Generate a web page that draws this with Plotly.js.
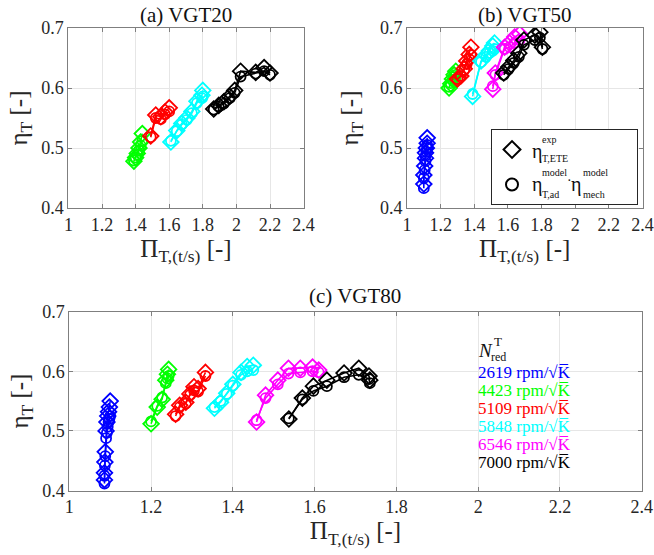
<!DOCTYPE html>
<html>
<head>
<meta charset="utf-8">
<script src="https://cdn.plot.ly/plotly-3.0.1.min.js"></script>
<style>html,body{margin:0;padding:0;background:#fff;}#chart{width:654px;height:555px;}</style>
</head>
<body>
<div id="chart"></div>
<script>
// ---------- data ----------
const speeds = ['2619', '4423', '5109', '5848', '6546', '7000'];
const seriesColors = ['#0000ff', '#00ff00', '#ff0000', '#00ffff', '#ff00ff', '#000000'];
const xTicks = [1, 1.2, 1.4, 1.6, 1.8, 2, 2.2, 2.4];
const yTicks = [0.4, 0.5, 0.6, 0.7];

// (a) VGT20
const vgt20_4423_pi  = [1.39, 1.40, 1.41, 1.42, 1.43, 1.44];
const vgt20_4423_exp = [0.478, 0.484, 0.491, 0.500, 0.510, 0.524];
const vgt20_4423_mod = [0.479, 0.484, 0.489, 0.496, 0.504, 0.512];
const vgt20_5109_pi  = [1.49, 1.52, 1.55, 1.575, 1.60];
const vgt20_5109_exp = [0.520, 0.555, 0.552, 0.560, 0.567];
const vgt20_5109_mod = [0.518, 0.550, 0.548, 0.556, 0.561];
const vgt20_5848_pi  = [1.61, 1.645, 1.675, 1.705, 1.735, 1.765, 1.795, 1.80];
const vgt20_5848_exp = [0.510, 0.529, 0.541, 0.550, 0.561, 0.578, 0.588, 0.596];
const vgt20_5848_mod = [0.512, 0.528, 0.539, 0.547, 0.558, 0.575, 0.583, 0.586];
const vgt20_7000_pi  = [1.865, 1.895, 1.925, 1.96, 1.99, 2.025, 2.115, 2.165, 2.20];
const vgt20_7000_exp = [0.565, 0.571, 0.577, 0.586, 0.596, 0.628, 0.626, 0.634, 0.625];
const vgt20_7000_mod = [0.564, 0.569, 0.574, 0.583, 0.592, 0.619, 0.624, 0.628, 0.622];

// (b) VGT50
const vgt50_2619_pi  = [1.10, 1.10, 1.105, 1.11, 1.11, 1.115, 1.12, 1.12];
const vgt50_2619_exp = [0.440, 0.455, 0.470, 0.483, 0.492, 0.500, 0.508, 0.517];
const vgt50_2619_mod = [0.433, 0.450, 0.463, 0.478, 0.487, 0.494, 0.500, 0.505];
const vgt50_4423_pi  = [1.25, 1.26, 1.27, 1.28, 1.29];
const vgt50_4423_exp = [0.600, 0.607, 0.615, 0.622, 0.628];
const vgt50_4423_mod = [0.602, 0.608, 0.613, 0.618, 0.622];
const vgt50_5109_pi  = [1.30, 1.32, 1.34, 1.355, 1.37, 1.38];
const vgt50_5109_exp = [0.615, 0.620, 0.632, 0.645, 0.656, 0.668];
const vgt50_5109_mod = [0.615, 0.620, 0.630, 0.640, 0.648, 0.655];
const vgt50_5848_pi  = [1.39, 1.44, 1.47, 1.49, 1.51, 1.52];
const vgt50_5848_exp = [0.586, 0.645, 0.655, 0.662, 0.670, 0.675];
const vgt50_5848_mod = [0.590, 0.643, 0.652, 0.658, 0.662, 0.665];
const vgt50_6546_pi  = [1.51, 1.525, 1.58, 1.61, 1.64, 1.67];
const vgt50_6546_exp = [0.598, 0.625, 0.668, 0.675, 0.685, 0.690];
const vgt50_6546_mod = [0.603, 0.622, 0.665, 0.668, 0.675, 0.680];
const vgt50_7000_pi  = [1.575, 1.605, 1.635, 1.665, 1.695, 1.76, 1.79, 1.805];
const vgt50_7000_exp = [0.625, 0.635, 0.646, 0.658, 0.680, 0.688, 0.693, 0.668];
const vgt50_7000_mod = [0.622, 0.632, 0.642, 0.652, 0.672, 0.680, 0.684, 0.665];

// (c) VGT80
const vgt80_2619_pi  = [1.086, 1.086, 1.087, 1.088, 1.090, 1.092, 1.094, 1.096, 1.098, 1.100];
const vgt80_2619_exp = [0.418, 0.430, 0.448, 0.465, 0.500, 0.515, 0.525, 0.532, 0.540, 0.550];
const vgt80_2619_mod = [0.412, 0.425, 0.442, 0.458, 0.488, 0.497, 0.507, 0.515, 0.520, 0.525];
const vgt80_4423_pi  = [1.20, 1.215, 1.227, 1.236, 1.240, 1.243];
const vgt80_4423_exp = [0.512, 0.540, 0.553, 0.585, 0.595, 0.603];
const vgt80_4423_mod = [0.516, 0.542, 0.556, 0.580, 0.588, 0.592];
const vgt80_5109_pi  = [1.26, 1.27, 1.285, 1.295, 1.305, 1.315, 1.333];
const vgt80_5109_exp = [0.528, 0.543, 0.548, 0.562, 0.574, 0.571, 0.598];
const vgt80_5109_mod = [0.525, 0.540, 0.546, 0.560, 0.568, 0.566, 0.592];
const vgt80_5848_pi  = [1.355, 1.37, 1.385, 1.40, 1.42, 1.435, 1.45];
const vgt80_5848_exp = [0.538, 0.548, 0.563, 0.578, 0.598, 0.608, 0.610];
const vgt80_5848_mod = [0.540, 0.550, 0.562, 0.576, 0.594, 0.600, 0.602];
const vgt80_6546_pi  = [1.458, 1.48, 1.51, 1.536, 1.565, 1.595, 1.61];
const vgt80_6546_exp = [0.515, 0.560, 0.585, 0.605, 0.605, 0.607, 0.602];
const vgt80_6546_mod = [0.518, 0.555, 0.578, 0.596, 0.598, 0.600, 0.598];
const vgt80_7000_pi  = [1.537, 1.57, 1.597, 1.63, 1.672, 1.708, 1.733, 1.735];
const vgt80_7000_exp = [0.520, 0.555, 0.575, 0.585, 0.597, 0.605, 0.592, 0.585];
const vgt80_7000_mod = [0.521, 0.553, 0.567, 0.575, 0.590, 0.594, 0.587, 0.580];

// ---------- assemble ----------
const panels = [
  {xa: 'x', ya: 'y', series: [
    [1, vgt20_4423_pi, vgt20_4423_exp, vgt20_4423_mod],
    [2, vgt20_5109_pi, vgt20_5109_exp, vgt20_5109_mod],
    [3, vgt20_5848_pi, vgt20_5848_exp, vgt20_5848_mod],
    [5, vgt20_7000_pi, vgt20_7000_exp, vgt20_7000_mod]]},
  {xa: 'x2', ya: 'y2', series: [
    [0, vgt50_2619_pi, vgt50_2619_exp, vgt50_2619_mod],
    [1, vgt50_4423_pi, vgt50_4423_exp, vgt50_4423_mod],
    [2, vgt50_5109_pi, vgt50_5109_exp, vgt50_5109_mod],
    [3, vgt50_5848_pi, vgt50_5848_exp, vgt50_5848_mod],
    [4, vgt50_6546_pi, vgt50_6546_exp, vgt50_6546_mod],
    [5, vgt50_7000_pi, vgt50_7000_exp, vgt50_7000_mod]]},
  {xa: 'x3', ya: 'y3', series: [
    [0, vgt80_2619_pi, vgt80_2619_exp, vgt80_2619_mod],
    [1, vgt80_4423_pi, vgt80_4423_exp, vgt80_4423_mod],
    [2, vgt80_5109_pi, vgt80_5109_exp, vgt80_5109_mod],
    [3, vgt80_5848_pi, vgt80_5848_exp, vgt80_5848_mod],
    [4, vgt80_6546_pi, vgt80_6546_exp, vgt80_6546_mod],
    [5, vgt80_7000_pi, vgt80_7000_exp, vgt80_7000_mod]]}
];

const traces = [];
panels.forEach(p => {
  p.series.forEach(([ci, xs, ye, ym]) => {
    const c = seriesColors[ci];
    traces.push({type: 'scatter', mode: 'lines+markers', x: xs, y: ym, xaxis: p.xa, yaxis: p.ya,
      showlegend: false, hoverinfo: 'skip', line: {color: c, width: 1.6},
      marker: {symbol: 'circle-open', size: 10, color: c, line: {color: c, width: 1.8}}});
    traces.push({type: 'scatter', mode: 'lines+markers', x: xs, y: ye, xaxis: p.xa, yaxis: p.ya,
      showlegend: false, hoverinfo: 'skip', line: {color: c, width: 1.6},
      marker: {symbol: 'diamond-open', size: 12, color: c, line: {color: c, width: 1.8}}});
  });
});
// legend entries (panel b); their text is drawn by annotations below
const blankName = '&nbsp;'.repeat(19);
traces.push({type: 'scatter', mode: 'markers', x: [null], y: [null], xaxis: 'x2', yaxis: 'y2',
  name: blankName, showlegend: true, legendgroup: 'exp',
  marker: {symbol: 'diamond-open', size: 13, color: '#000', line: {color: '#000', width: 2}}});
traces.push({type: 'scatter', mode: 'markers', x: [null], y: [null], xaxis: 'x2', yaxis: 'y2',
  name: blankName + ' ', showlegend: true, legendgroup: 'model',
  marker: {symbol: 'circle-open', size: 12, color: '#000', line: {color: '#000', width: 2}}});

const W = 654, H = 555;
const px = v => v / W;
const py = v => 1 - v / H;
const FONT = 'Liberation Serif';
const TXT = '#262626';

function xAxis(d0, d1, anchor) {
  return {domain: [px(d0), px(d1)], anchor: anchor, range: [1, 2.4], tickvals: xTicks,
    showgrid: true, gridcolor: '#e6e6e6', gridwidth: 1, zeroline: false,
    showline: true, mirror: 'ticks', linecolor: '#7f7f7f', linewidth: 1,
    ticks: 'inside', ticklen: 4, tickcolor: '#7f7f7f',
    tickfont: {family: FONT, size: 18, color: TXT},
    title: {text: 'Π<sub>T,(t/s)</sub> [-]', font: {family: FONT, size: 25, color: TXT}, standoff: 2}};
}
function yAxis(d0, d1, anchor, standoff) {
  return {domain: [py(d1), py(d0)], anchor: anchor, range: [0.4, 0.7], tickvals: yTicks,
    tickformat: '.1f',
    showgrid: true, gridcolor: '#e6e6e6', gridwidth: 1, zeroline: false,
    showline: true, mirror: 'ticks', linecolor: '#7f7f7f', linewidth: 1,
    ticks: 'inside', ticklen: 4, tickcolor: '#7f7f7f',
    tickfont: {family: FONT, size: 18, color: TXT},
    title: {text: 'η<sub>T</sub> [-]', font: {family: FONT, size: 25, color: TXT}, standoff: standoff}};
}

const ann = [];
function label(text, x, y, size, color, xanchor, extra) {
  ann.push(Object.assign({xref: 'paper', yref: 'paper', x: px(x), y: py(y), text: text, showarrow: false,
    xanchor: xanchor || 'center', yanchor: 'middle', font: {family: FONT, size: size, color: color || TXT},
    borderpad: 0}, extra || {}));
}
// panel titles
label('(a) VGT20', 186, 15, 21, '#111');
label('(b) VGT50', 525, 15, 21, '#111');
label('(c) VGT80', 355, 296, 21, '#111');
// legend text panel b
label('η', 537, 151, 20, '#111');
label('exp', 541, 139, 10, '#111', 'left');
label('T,ETE', 541, 159, 10, '#111', 'left');
label('η', 537, 185, 20, '#111');
label('model', 541, 173, 10, '#111', 'left');
label('T,ad', 541, 194, 10, '#111', 'left');
label('·', 569, 180, 14, '#111');
label('η', 576, 185, 20, '#111');
label('model', 582, 173, 10, '#111', 'left');
label('mech', 582, 194, 10, '#111', 'left');
// speed labels panel c
label('<i>N</i>', 477, 350, 19, '#111', 'left');
label('T', 493, 341, 13, '#111', 'left');
label('red', 490, 357, 12, '#111', 'left');
speeds.forEach((s, i) => {
  label(s + ' rpm/√K\u0305', 477, 372 + 18 * i, 17, seriesColors[i], 'left');
});

const layout = {
  width: W, height: H, margin: {l: 0, r: 0, t: 0, b: 0},
  paper_bgcolor: '#fff', plot_bgcolor: '#fff',
  font: {family: FONT, color: TXT},
  xaxis: xAxis(68.4, 303.6, 'y'), yaxis: yAxis(28, 208, 'x', 6),
  xaxis2: xAxis(407, 642.5, 'y2'), yaxis2: yAxis(28, 208, 'x2', 14),
  xaxis3: xAxis(69.3, 641.7, 'y3'), yaxis3: yAxis(311.5, 490.7, 'x3', 6),
  showlegend: true,
  legend: {x: px(638), y: py(129), xanchor: 'right', yanchor: 'top', bgcolor: '#fff',
    bordercolor: '#262626', borderwidth: 1, font: {family: FONT, size: 20, color: 'rgba(0,0,0,0)'},
    tracegroupgap: 6, itemclick: false, itemdoubleclick: false},
  annotations: ann
};

Plotly.newPlot('chart', traces, layout, {staticPlot: true, displayModeBar: false});
</script>
</body>
</html>
